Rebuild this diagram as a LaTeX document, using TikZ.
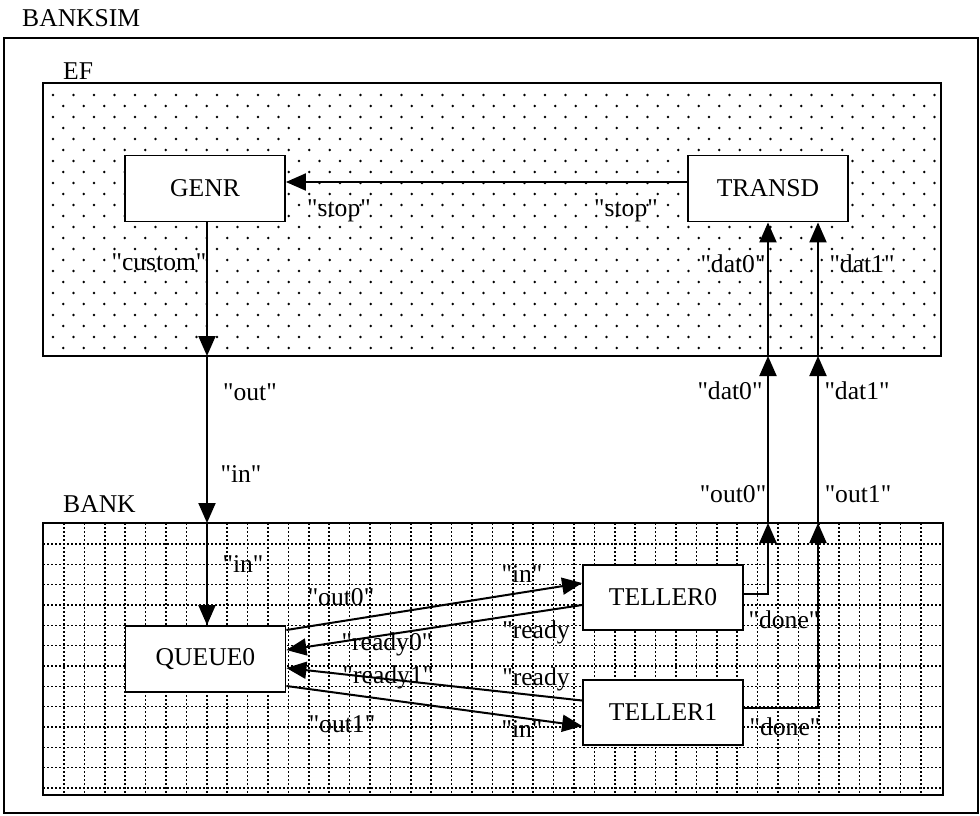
\documentclass[tikz,border=0pt]{standalone}
\usepackage{fontspec}
\setmainfont{Liberation Serif}[Ligatures=TeXOff]
\usetikzlibrary{arrows.meta}
\begin{document}
\begin{tikzpicture}[x=1pt,y=-1pt,
  lbl/.style={anchor=base,inner sep=0pt,font=\fontsize{25.6}{30}\selectfont},
  ttl/.style={anchor=base west,inner sep=0pt,font=\fontsize{25.6}{30}\selectfont},
  blk/.style={draw,fill=white,line width=1.8pt,minimum width=160pt,minimum height=66pt,inner sep=0pt,font=\fontsize{25.6}{30}\selectfont},
  frame/.style={draw,line width=2pt,inner sep=0pt},
  arr/.style={line width=2pt,-{Triangle[length=20pt,width=17pt]}},
  gridline/.style={line width=1.6pt,dash pattern=on 1.6pt off 2.4pt}
]
\useasboundingbox (0,0) rectangle (980,815);

% dotted fill of EF
\begin{scope}
\clip (43,83) rectangle (941,356);
\foreach \r in {0,...,23}{
  \pgfmathsetmacro{\yy}{95+11*\r}
  \pgfmathsetmacro{\xo}{53+10.25*mod(\r,2)}
  \fill \foreach \k in {0,...,43}{ (\xo+20.5*\k,\yy) circle[radius=1.35pt] };
}
\end{scope}

% dotted grid of BANK
\begin{scope}
\clip (43,523) rectangle (943,795);
\foreach \k in {0,...,42} \draw[gridline] (64+20.4*\k,523) -- (64+20.4*\k,795);
\foreach \k in {0,...,12} \draw[gridline] (43,544+20.33*\k) -- (943,544+20.33*\k);
\end{scope}

% frames
\node[frame,minimum width=974pt,minimum height=775pt] (BANKSIM) at (491,425.5) {};
\node[frame,minimum width=898pt,minimum height=273pt] (EF) at (492,219.5) {};
\node[frame,minimum width=900pt,minimum height=272pt] (BANK) at (493,659) {};
\node[ttl] (tBANKSIM) at (22,26) {BANKSIM};
\node[ttl] (tEF) at (63,79) {EF};
\node[ttl] (tBANK) at (63,512) {BANK};

% blocks
\node[blk] (G) at (205,188.5) {GENR};
\node[blk] (TR) at (768,188.5) {TRANSD};
\node[blk] (Q) at (205.5,659) {QUEUE0};
\node[blk,minimum height=65pt] (T0) at (663,597.5) {TELLER0};
\node[blk,minimum height=65pt] (T1) at (663,712.5) {TELLER1};

% port points on the frames
\coordinate (efout) at (207,356);
\coordinate (bankin) at (207,523);
\coordinate (efdat0) at (768,356);
\coordinate (efdat1) at (818,356);
\coordinate (bout0) at (768,523);
\coordinate (bout1) at (818,523);

% connectors
\draw[arr] ([yshift=6.5pt]TR.west) -- ([yshift=6.5pt]G.east);
\draw[arr] (G.south -| efout) -- (efout);
\draw[arr] (efout) -- (bankin);
\draw[arr] (bankin) -- (bankin |- Q.north);
\draw[arr] ([yshift=3.5pt]T0.east) -| (bout0);
\draw[arr] (bout0) -- (efdat0);
\draw[arr] (efdat0) -- (efdat0 |- TR.south);
\draw[arr] ([yshift=4.5pt]T1.east) -| (bout1);
\draw[arr] (bout1) -- (efdat1);
\draw[arr] (efdat1) -- (efdat1 |- TR.south);
\draw[arr] ([yshift=29pt]Q.east) -- ([yshift=14.5pt]T0.west);
\draw[arr] ([yshift=-7.5pt]T0.west) -- ([yshift=9pt]Q.east);
\draw[arr] ([yshift=12pt]T1.west) -- ([yshift=-9pt]Q.east);
\draw[arr] ([yshift=-27pt]Q.east) -- ([yshift=-13.5pt]T1.west);

% labels
\node[lbl] (l1) at (339,216) {"stop"};
\node[lbl] (l2) at (626,216) {"stop"};
\node[lbl] (l3) at (159,270) {"custom"};
\node[lbl] (l4) at (733,272) {"dat0"};
\node[lbl] (l5) at (862,272) {"dat1"};
\node[lbl] (l6) at (250,400) {"out"};
\node[lbl] (l7) at (241,482) {"in"};
\node[lbl] (l8) at (730,399) {"dat0"};
\node[lbl] (l9) at (857,399) {"dat1"};
\node[lbl] (l10) at (733,502) {"out0"};
\node[lbl] (l11) at (858,502) {"out1"};
\node[lbl] (l12) at (243,572) {"in"};
\node[lbl] (l13) at (522,582) {"in"};
\node[lbl] (l14) at (341,605) {"out0"};
\node[lbl] (l15) at (536,638) {"ready};
\node[lbl] (l16) at (387,650) {"ready0"};
\node[lbl] (l17) at (388,683) {"ready1"};
\node[lbl] (l18) at (536,685) {"ready};
\node[lbl] (l19) at (342,732) {"out1"};
\node[lbl] (l20) at (522,737) {"in"};
\node[lbl] (l21) at (784,628) {"done"};
\node[lbl] (l22) at (785,735) {"done"};
\end{tikzpicture}
\end{document}
